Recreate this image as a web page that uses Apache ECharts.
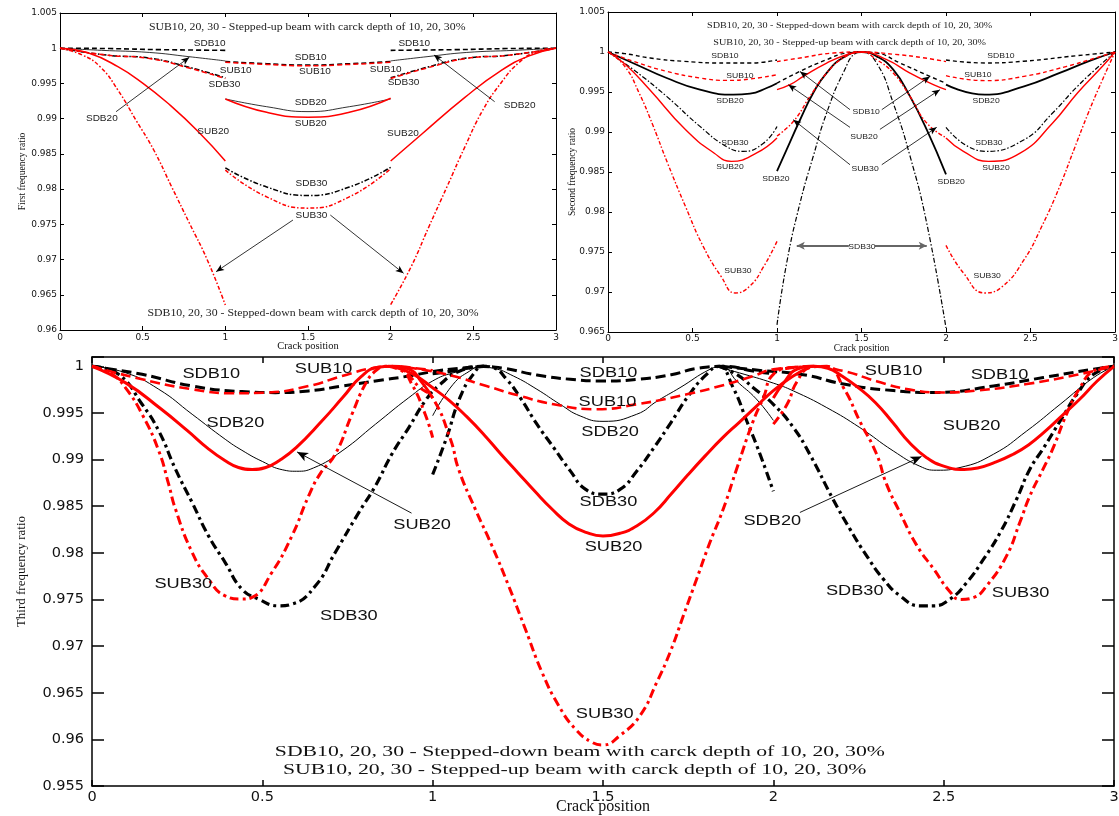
<!DOCTYPE html>
<html><head><meta charset="utf-8">
<script src="https://cdn.jsdelivr.net/npm/echarts@6/dist/echarts.min.js"></script>
<style>html,body{margin:0;padding:0;background:#fff}#c{width:1119px;height:816px}</style>
</head><body><div id="c"></div>
<script>
// ---------------- axis ranges / ticks ----------------
const X_RANGE = [0, 3], X_STEP = 0.5;
const F1_RANGE = [0.96, 1.005];
const F2_RANGE = [0.965, 1.005];
const F3_RANGE = [0.955, 1.001];
const Y_STEP = 0.005;

// ---------------- First frequency ratio (top-left) ----------------
const f1_SDB10 = [
  [[0,1],[0.3,0.99995],[0.6,0.9998],[1,0.9997]],
  [[1,0.9981],[1.25,0.9978],[1.5,0.9976],[1.75,0.9978],[2,0.9981]],
  [[2,0.9997],[2.4,0.9998],[2.7,0.99995],[3,1]]];
const f1_SDB20 = [
  [[0,1],[0.25,0.9997],[0.54,0.9994],[0.78,0.9988],[1,0.9982]],
  [[1,0.9928],[1.25,0.9917],[1.5,0.991],[1.75,0.9917],[2,0.9928]],
  [[2,0.9982],[2.22,0.9988],[2.46,0.9994],[2.75,0.9997],[3,1]]];
const f1_SDB30 = [
  [[0,1],[0.29,0.999],[0.54,0.9986],[0.78,0.9973],[1,0.9958]],
  [[1,0.983],[1.25,0.9803],[1.5,0.9791],[1.75,0.9803],[2,0.9831]],
  [[2,0.9958],[2.22,0.9973],[2.46,0.9986],[2.71,0.999],[3,1]]];
const f1_SUB10 = [
  [[0,1],[0.29,0.999],[0.54,0.99855],[0.78,0.9972],[1,0.9957]],
  [[1,0.998],[1.25,0.9977],[1.5,0.9975],[1.75,0.9977],[2,0.998]],
  [[2,0.9957],[2.22,0.9972],[2.46,0.99855],[2.71,0.999],[3,1]]];
const f1_SUB20 = [
  [[0,1],[0.177,0.99928],[0.35,0.99738],[0.502,0.99502],[0.653,0.99218],[0.837,0.98815],[1,0.98399]],
  [[1,0.9928],[1.25,0.9909],[1.5,0.9902],[1.75,0.9909],[2,0.9929]],
  [[2,0.98399],[2.189,0.98783],[2.449,0.99302],[2.665,0.99679],[2.838,0.99892],[3,1]]];
const f1_SUB30 = [
  [[0,1],[0.134,0.99904],[0.242,0.99738],[0.35,0.99407],[0.459,0.98981],[0.567,0.98555],[0.675,0.98034],[0.783,0.97515],[0.891,0.96994],[1,0.96355]],
  [[1,0.9827],[1.25,0.9789],[1.5,0.9773],[1.75,0.9789],[2,0.9829]],
  [[2,0.9636],[2.124,0.969],[2.232,0.9747],[2.34,0.9803],[2.449,0.986],[2.557,0.9912],[2.665,0.995],[2.773,0.9979],[2.881,0.9995],[3,1]]];

// ---------------- Second frequency ratio (top-right) ----------------
const f2_SDB10 = [
  [[0,1],[0.1,0.9998],[0.25,0.99925],[0.45,0.99883],[0.7,0.99862],[0.84,0.99862],[1,0.999]],
  [[1,0.9961],[1.136,0.99758],[1.294,0.99904],[1.412,0.99987],[1.5,1],[1.59,0.99987],[1.728,0.99862],[1.905,0.99695],[2,0.9961]],
  [[2,0.999],[2.23,0.99863],[2.46,0.99885],[2.78,0.99955],[3,1]]];
const f2_SDB20 = [
  [[0,1],[0.15,0.9986],[0.347,0.99675],[0.544,0.99529],[0.742,0.99466],[0.84,0.99479],[0.939,0.9955],[1,0.9961]],
  [[1,0.9851],[1.057,0.9878],[1.136,0.9915],[1.215,0.9949],[1.294,0.9974],[1.392,0.9993],[1.5,1],[1.59,0.99945],[1.688,0.9978],[1.787,0.99445],[1.886,0.9903],[2,0.9847]],
  [[2,0.99592],[2.23,0.99467],[2.462,0.99571],[2.673,0.99738],[2.842,0.99883],[3,1]]];
const f2_SDB30 = [
  [[0,1],[0.15,0.9978],[0.347,0.99445],[0.544,0.9907],[0.7,0.9882],[0.8,0.98758],[0.92,0.9886],[1,0.9907]],
  [[1,0.9659],[1.057,0.9736],[1.136,0.9811],[1.215,0.987],[1.294,0.9924],[1.392,0.9974],[1.471,0.9999],[1.5,1],[1.59,0.9986],[1.688,0.9936],[1.787,0.987],[1.886,0.9786],[2,0.9655]],
  [[2,0.99058],[2.23,0.98758],[2.462,0.98904],[2.631,0.99238],[2.778,0.99571],[2.926,0.99863],[3,1]]];
const f2_SUB10 = [
  [[0,1],[0.15,0.99883],[0.347,0.99758],[0.544,0.99675],[0.702,0.99645],[0.84,0.99662],[1,0.99716]],
  [[1,0.9988],[1.136,0.99925],[1.333,0.99987],[1.5,1],[1.7,0.9997],[1.86,0.9993],[2,0.9988]],
  [[2,0.99704],[2.23,0.99642],[2.462,0.99696],[2.715,0.99821],[2.884,0.99925],[3,1]]];
const f2_SUB20 = [
  [[0,1],[0.1,0.9985],[0.247,0.99529],[0.458,0.9903],[0.627,0.98738],[0.73,0.98633],[0.88,0.98738],[1,0.98925]],
  [[1,0.99529],[1.077,0.99591],[1.156,0.99695],[1.294,0.99862],[1.412,0.99966],[1.5,1],[1.649,0.99904],[1.787,0.99737],[1.925,0.99591],[2,0.99529]],
  [[2,0.98925],[2.103,0.98758],[2.251,0.98633],[2.441,0.98738],[2.631,0.99113],[2.778,0.99488],[2.926,0.99821],[3,1]]];
const f2_SUB30 = [
  [[0,1],[0.099,0.99821],[0.184,0.99488],[0.268,0.99071],[0.352,0.98613],[0.458,0.98071],[0.563,0.97571],[0.669,0.97196],[0.753,0.96988],[0.838,0.97071],[0.922,0.97321],[1,0.97633]],
  [[1,0.9895],[1.1,0.9914],[1.195,0.99445],[1.294,0.99737],[1.392,0.99925],[1.5,1],[1.59,0.99904],[1.688,0.99737],[1.787,0.99445],[1.886,0.99112],[2,0.9893]],
  [[2,0.97583],[2.103,0.97238],[2.23,0.96988],[2.335,0.97071],[2.462,0.97404],[2.567,0.97821],[2.673,0.98321],[2.757,0.98779],[2.842,0.99238],[2.926,0.99654],[3,1]]];

// ---------------- Third frequency ratio (bottom) ----------------
const f3_SDB10 = [
  [[0,1],[0.147,0.99914],[0.294,0.99789],[0.44,0.99729],[0.538,0.99718],[0.636,0.99736],[0.734,0.99789],[0.832,0.99843],[0.93,0.99896],[1,0.99943],[1.08,0.9998],[1.15,1]],
  [[1,0.9992],[1.06,0.9995],[1.14,1],[1.207,0.9998],[1.306,0.99907],[1.404,0.99861],[1.5,0.99843],[1.6,0.9986],[1.7,0.9991],[1.78,0.9998],[1.86,1],[1.94,0.9995],[2,0.9992]],
  [[1.85,1],[1.95,0.9996],[2.088,0.9991],[2.206,0.9981],[2.352,0.9974],[2.479,0.9972],[2.646,0.9979],[2.793,0.9988],[2.94,0.9997],[3,1]]];
const f3_SDB20 = [
  [[0,1],[0.098,0.99932],[0.196,0.99754],[0.294,0.99486],[0.391,0.99218],[0.44,0.991],[0.5,0.9898],[0.56,0.9889],[0.6,0.98875],[0.65,0.9891],[0.734,0.99093],[0.832,0.99379],[0.93,0.99664],[1,0.99843],[1.06,0.9993],[1.15,1]],
  [[1,0.9947],[1.06,0.99807],[1.109,0.9995],[1.139,0.99993],[1.178,0.99979],[1.237,0.99896],[1.306,0.99754],[1.374,0.99593],[1.433,0.99468],[1.5,0.9941],[1.599,0.99486],[1.66,0.9963],[1.726,0.99771],[1.814,0.99968],[1.85,1],[1.892,0.99843],[1.95,0.9965],[2,0.9942]],
  [[1.83,1],[1.9,0.9993],[2,0.9982],[2.059,0.99736],[2.157,0.99557],[2.254,0.99343],[2.352,0.99093],[2.43,0.98929],[2.479,0.98886],[2.548,0.98915],[2.646,0.99057],[2.744,0.99307],[2.842,0.99593],[2.94,0.99879],[3,1]]];
const f3_SDB30 = [
  [[0,1],[0.078,0.99914],[0.147,0.99593],[0.196,0.99307],[0.245,0.98897],[0.294,0.98539],[0.342,0.98182],[0.391,0.97896],[0.44,0.97611],[0.489,0.97504],[0.548,0.97432],[0.587,0.9745],[0.656,0.97647],[0.714,0.98004],[0.783,0.98432],[0.832,0.98718],[0.88,0.99057],[0.93,0.99343],[0.978,0.99629],[1.02,0.998],[1.08,0.9995],[1.15,1]],
  [[1,0.9884],[1.041,0.99236],[1.08,0.99664],[1.119,0.99914],[1.149,1],[1.178,0.99986],[1.217,0.99861],[1.257,0.99664],[1.306,0.99379],[1.355,0.99129],[1.404,0.98879],[1.448,0.98683],[1.5,0.9863],[1.55,0.9868],[1.6,0.9888],[1.65,0.9913],[1.7,0.994],[1.75,0.9968],[1.8,0.999],[1.84,1],[1.882,0.99771],[1.922,0.99414],[1.961,0.99057],[2,0.9866]],
  [[1.84,1],[1.892,0.99914],[1.941,0.99771],[2,0.99593],[2.059,0.99343],[2.107,0.99057],[2.176,0.9857],[2.225,0.98254],[2.274,0.97968],[2.323,0.97718],[2.372,0.97539],[2.431,0.97432],[2.47,0.97432],[2.519,0.97504],[2.568,0.97682],[2.617,0.97932],[2.666,0.98218],[2.714,0.98575],[2.753,0.98897],[2.794,0.99129],[2.842,0.99414],[2.891,0.997],[2.94,0.99914],[3,1]]];
const f3_SUB10 = [
  [[0,1],[0.147,0.99861],[0.294,0.99754],[0.411,0.99711],[0.509,0.99718],[0.636,0.99789],[0.734,0.99896],[0.832,0.99986],[0.88,1],[0.978,0.99968],[1,0.99957]],
  [[0.88,1],[0.963,0.99968],[1.06,0.99896],[1.158,0.99789],[1.257,0.99682],[1.355,0.99593],[1.481,0.9954],[1.599,0.99593],[1.746,0.997],[1.844,0.99789],[1.941,0.99896],[2,0.99968],[2.12,1]],
  [[2,0.9996],[2.06,0.9999],[2.11,1],[2.206,0.9995],[2.303,0.9984],[2.401,0.9975],[2.499,0.9972],[2.597,0.9974],[2.744,0.9981],[2.891,0.9991],[3,1]]];
const f3_SUB20 = [
  [[0,1],[0.1,0.9982],[0.2,0.9955],[0.28,0.9931],[0.34,0.9912],[0.39,0.9899],[0.43,0.98915],[0.47,0.98893],[0.51,0.98915],[0.55,0.9899],[0.6,0.9913],[0.674,0.9941],[0.737,0.9967],[0.79,0.9989],[0.84,0.9999],[0.88,1],[0.93,0.9997],[0.97,0.9982],[1,0.9966]],
  [[0.88,1],[0.94,0.9992],[1,0.9977],[1.05,0.9963],[1.1,0.9946],[1.15,0.9927],[1.2,0.9906],[1.25,0.9886],[1.3,0.9866],[1.35,0.9847],[1.4,0.9831],[1.45,0.9822],[1.5,0.9818],[1.55,0.9821],[1.6,0.9829],[1.65,0.9843],[1.7,0.9863],[1.75,0.9884],[1.8,0.9904],[1.85,0.9923],[1.9,0.994],[1.95,0.9957],[2,0.9974],[2.056,0.9989],[2.11,1]],
  [[2,0.9966],[2.03,0.9982],[2.07,0.9997],[2.12,1],[2.16,0.9998],[2.2,0.999],[2.25,0.9977],[2.3,0.9961],[2.35,0.994],[2.4,0.9918],[2.45,0.9902],[2.5,0.9893],[2.56,0.98895],[2.6,0.9891],[2.65,0.9897],[2.7,0.9905],[2.75,0.9916],[2.8,0.9931],[2.85,0.9948],[2.9,0.9965],[2.95,0.9984],[3,1]]];
const f3_SUB30 = [
  [[0,1],[0.059,0.99914],[0.098,0.99771],[0.147,0.99486],[0.196,0.99093],[0.225,0.98736],[0.245,0.98469],[0.294,0.98004],[0.342,0.97718],[0.391,0.97539],[0.44,0.97504],[0.47,0.97522],[0.528,0.97789],[0.587,0.98182],[0.636,0.98611],[0.67,0.9885],[0.714,0.99057],[0.763,0.99486],[0.802,0.99807],[0.832,0.9995],[0.861,1],[0.9,0.99986],[0.939,0.99807],[0.978,0.99486],[1,0.99236]],
  [[0.87,1],[0.92,0.9993],[0.96,0.9978],[1,0.9966],[1.053,0.9921],[1.076,0.98897],[1.125,0.98469],[1.174,0.98076],[1.223,0.97646],[1.272,0.97183],[1.321,0.96719],[1.37,0.96361],[1.419,0.96111],[1.468,0.95968],[1.5,0.9594],[1.55,0.96042],[1.609,0.96256],[1.658,0.96613],[1.697,0.96934],[1.736,0.97327],[1.775,0.9772],[1.814,0.98113],[1.853,0.9847],[1.892,0.98897],[1.941,0.99414],[1.971,0.99664],[2,0.99914],[2.06,0.99986],[2.12,1]],
  [[2,0.9938],[2.04,0.9959],[2.07,0.9984],[2.11,0.9999],[2.157,1],[2.206,0.9977],[2.254,0.9941],[2.303,0.9906],[2.332,0.9874],[2.372,0.9843],[2.421,0.9808],[2.47,0.9783],[2.519,0.9758],[2.548,0.975],[2.587,0.9752],[2.627,0.9765],[2.685,0.9797],[2.724,0.9833],[2.753,0.9861],[2.792,0.989],[2.822,0.9913],[2.861,0.9949],[2.9,0.9977],[2.94,0.9995],[3,1]]];

// ---------------- annotations (data coordinates) ----------------
const f1Labels = [['SDB10',0.905,1.0007],['SDB10',1.516,0.99871],['SDB10',2.143,1.0006],
  ['SUB10',1.063,0.99677],['SUB10',1.542,0.99662],['SUB10',1.97,0.99691],
  ['SDB30',0.994,0.99478],['SDB30',2.078,0.99506],
  ['SDB20',0.253,0.99005],['SDB20',1.516,0.99222],['SDB20',2.78,0.9918],
  ['SUB20',1.516,0.98924],['SUB20',0.927,0.98811],['SUB20',2.074,0.98792],
  ['SDB30',1.521,0.98073],['SUB30',1.521,0.97618]];
const f1Notes = [['SUB10, 20, 30 - Stepped-up beam with carck depth of 10, 20, 30%',1.495,1.00297],
  ['SDB10, 20, 30 - Stepped-down beam with carck depth of 10, 20, 30%',1.53,0.96237]];
const f1Arrows = [[0.339,0.99099,0.782,0.99871],[2.629,0.99241,2.262,0.99904],
  [1.409,0.97561,0.944,0.96828],[1.635,0.97632,2.078,0.96805]];

const f2Labels = [['SDB10',0.692,0.99954],['SDB10',2.325,0.99954],['SUB10',0.781,0.99704],['SUB10',2.189,0.99716],
  ['SDB20',0.722,0.99391],['SDB20',2.237,0.99391],['SDB30',0.751,0.98866],['SDB30',2.254,0.98866],
  ['SUB20',0.722,0.98566],['SUB20',2.296,0.98554],['SDB10',1.527,0.99254],['SUB20',1.515,0.98941],['SUB30',1.521,0.98541],
  ['SDB20',0.994,0.98416],['SDB20',2.03,0.98379],['SDB30',1.503,0.97566],['SUB30',0.769,0.97266],['SUB30',2.243,0.97204]];
const f2Notes = [['SDB10, 20, 30 - Stepped-down beam with carck depth of 10, 20, 30%',1.43,1.00333],
  ['SUB10, 20, 30 - Stepped-up beam with carck depth of 10, 20, 30%',1.43,1.0012]];
const f2Arrows = [[1.432,0.99279,1.136,0.99757],[1.62,0.99279,1.905,0.99695],
  [1.432,0.99058,1.067,0.99591],[1.609,0.99033,1.964,0.99529],
  [1.432,0.98591,1.096,0.99154],[1.62,0.98591,1.945,0.99058]];
const f2GrayArrows = [[1.425,0.97579,1.117,0.97579],[1.58,0.97579,1.886,0.97579]];

const f3Labels = [['SDB10',0.35,0.99914],['SUB10',0.68,0.99968],['SDB20',0.421,0.9939],['SUB20',0.969,0.983],
  ['SUB30',0.268,0.97665],['SDB30',0.754,0.97326],['SDB10',1.516,0.99925],['SUB10',1.513,0.99611],
  ['SDB20',1.521,0.9929],['SDB30',1.516,0.9854],['SUB20',1.531,0.98065],['SUB30',1.505,0.96273],
  ['SUB10',2.353,0.9995],['SDB10',2.664,0.99907],['SUB20',2.582,0.99354],['SDB20',1.997,0.98343],
  ['SDB30',2.239,0.97587],['SUB30',2.726,0.97569]];
const f3Notes = [['SDB10, 20, 30 - Stepped-down beam with carck depth of 10, 20, 30%',1.432,0.95869],
  ['SUB10, 20, 30 - Stepped-up beam with carck depth of 10, 20, 30%',1.417,0.95673]];
const f3Arrows = [[0.938,0.98426,0.602,0.99082],[2.078,0.98433,2.435,0.99033]];

// ---------------- styles ----------------
const RED = '#ff0000', BLK = '#000000';
const ST = [
  {SDB10:{color:BLK,width:1.6,type:[5,3]},SDB20:{color:BLK,width:0.8,type:'solid'},SDB30:{color:BLK,width:1.5,type:[5,2,1.5,2]},
   SUB10:{color:RED,width:1.5,type:[5,3]},SUB20:{color:RED,width:1.5,type:'solid'},SUB30:{color:RED,width:1.5,type:[4,2,1.5,2]}},
  {SDB10:{color:BLK,width:1.4,type:[4,3]},SDB20:{color:BLK,width:1.8,type:'solid'},SDB30:{color:BLK,width:1.2,type:[5,2,1.5,2]},
   SUB10:{color:RED,width:1.4,type:[4,3]},SUB20:{color:RED,width:1.4,type:'solid'},SUB30:{color:RED,width:1.4,type:[4,2,1.5,2]}},
  {SDB10:{color:BLK,width:3,type:[10,5]},SDB20:{color:BLK,width:1,type:'solid'},SDB30:{color:BLK,width:3.2,type:[9,4,3,4]},
   SUB10:{color:RED,width:2.6,type:[10,5]},SUB20:{color:RED,width:3,type:'solid'},SUB30:{color:RED,width:3,type:[9,4,3,4]}}];

const PANELS = [
  {SDB10:f1_SDB10,SDB20:f1_SDB20,SDB30:f1_SDB30,SUB10:f1_SUB10,SUB20:f1_SUB20,SUB30:f1_SUB30},
  {SDB10:f2_SDB10,SDB20:f2_SDB20,SDB30:f2_SDB30,SUB10:f2_SUB10,SUB20:f2_SUB20,SUB30:f2_SUB30},
  {SDB10:f3_SDB10,SDB20:f3_SDB20,SDB30:f3_SDB30,SUB10:f3_SUB10,SUB20:f3_SUB20,SUB30:f3_SUB30}];

// ---------------- axes ----------------
const AX = [
  {yr:F1_RANGE, lw:1, tick:4, lf:'DejaVu Sans', ls:9, lmx:3, lmy:3, ns:10.5, ngx:11, yname:'First frequency ratio', yns:9.5, ngy:33},
  {yr:F2_RANGE, lw:1, tick:4, lf:'DejaVu Sans', ls:9, lmx:2, lmy:3, ns:9.5, ngx:11, yname:'Second frequency ratio', yns:9.5, ngy:31},
  {yr:F3_RANGE, lw:1.5, tick:6, tickY:12, lf:'DejaVu Sans', ls:14.5, lmx:4, lmy:8, ns:16, ngx:13, yname:'Third frequency ratio', yns:13, ngy:64}];

function yFmt(v){ const r=v/Y_STEP; if(Math.abs(r-Math.round(r))>1e-6) return ''; return String(+v.toFixed(3)); }

const xAxis = [], yAxis = [];
AX.forEach((a, gi) => {
  ['bottom','top'].forEach(pos => xAxis.push({
    type:'value', gridIndex:gi, position:pos, min:X_RANGE[0], max:X_RANGE[1], interval:X_STEP,
    axisLine:{show:true,onZero:false,lineStyle:{color:'#000',width:a.lw}},
    axisTick:{show:true,inside:true,length:a.tick,lineStyle:{color:'#000',width:a.lw}},
    axisLabel:{show:pos==='bottom',fontFamily:a.lf,fontSize:a.ls,color:'#111',margin:a.lmx},
    splitLine:{show:false},
    name:pos==='bottom'?'Crack position':'', nameLocation:'middle', nameGap:a.ngx, nameMoveOverlap:false,
    nameTextStyle:{fontFamily:'Liberation Serif',fontSize:a.ns,color:'#111'}}));
  ['left','right'].forEach(pos => yAxis.push({
    type:'value', gridIndex:gi, position:pos, min:a.yr[0], max:a.yr[1], interval:Y_STEP,
    axisLine:{show:true,onZero:false,lineStyle:{color:'#000',width:a.lw}},
    axisTick:{show:true,inside:true,length:a.tickY||a.tick,lineStyle:{color:'#000',width:a.lw}},
    axisLabel:{show:pos==='left',fontFamily:a.lf,fontSize:a.ls,color:'#111',margin:a.lmy,formatter:yFmt},
    splitLine:{show:false},
    name:pos==='left'?a.yname:'', nameLocation:'middle', nameRotate:90, nameGap:a.ngy, nameMoveOverlap:false,
    nameTextStyle:{fontFamily:'Liberation Serif',fontSize:a.yns,color:'#111'}}));
});

// ---------------- series ----------------
const series = [];
const ORDER = ['SDB10','SDB20','SDB30','SUB10','SUB20','SUB30'];
PANELS.forEach((curves, gi) => {
  ORDER.forEach(k => curves[k].forEach(piece => series.push({
    name:k, type:'line', xAxisIndex:gi*2, yAxisIndex:gi*2, data:piece,
    showSymbol:false, symbol:'none', smooth:0.5,
    lineStyle:Object.assign({join:'round'}, ST[gi][k]), silent:true, animation:false, z:2})));
});
function arrowSeries(gi, arrows, color, width, size, sym) {
  return {type:'line', xAxisIndex:gi*2, yAxisIndex:gi*2, data:[], silent:true, animation:false, showSymbol:false,
    markLine:{silent:true, animation:false, symbol:sym||['none','arrow'], symbolSize:size, precision:5,
      label:{show:false}, lineStyle:{color:color,width:width,type:'solid'},
      data:arrows.map(a => [{coord:[a[0],a[1]]},{coord:[a[2],a[3]]}])}};
}
series.push(arrowSeries(0, f1Arrows, '#000', 0.8, [5,8]));
series.push(arrowSeries(1, f2Arrows, '#000', 0.8, [5,8]));
series.push(arrowSeries(1, f2GrayArrows, '#666', 1.8, [6,8]));
series.push(arrowSeries(2, f3Arrows, '#000', 0.9, [7,11]));

const GB = {outerBoundsMode:'none', containLabel:false};
const option = {
  backgroundColor:'#fff', animation:false,
  grid:[Object.assign({left:60,top:13,width:496,height:317},GB),
        Object.assign({left:608,top:12,width:507,height:320},GB),
        Object.assign({left:92,top:357,width:1022,height:429},GB)],
  xAxis, yAxis, series};

const chart = echarts.init(document.getElementById('c'));
chart.setOption(option);

// ---------------- text annotations placed through the axes ----------------
const graphics = [];
function addTexts(gi, list, font, scale, color) {
  list.forEach(([t,x,y]) => {
    const p = chart.convertToPixel({xAxisIndex:gi*2, yAxisIndex:gi*2}, [x,y]);
    graphics.push({type:'text', x:p[0], y:p[1], scaleX:scale, silent:true, z:100,
      style:{text:t, font:font, fill:color, textAlign:'center', textVerticalAlign:'middle', align:'center', verticalAlign:'middle'}});
  });
}
addTexts(0, f1Labels, '8.5px "Liberation Sans"', 1.18, '#222');
addTexts(0, f1Notes, '10px "Liberation Serif"', 1.18, '#222');
addTexts(1, f2Labels, '7.5px "Liberation Sans"', 1.15, '#222');
addTexts(1, f2Notes, '9px "Liberation Serif"', 1.13, '#222');
addTexts(2, f3Labels, '14px "Liberation Sans"', 1.3, '#111');
addTexts(2, f3Notes, '15px "Liberation Serif"', 1.45, '#111');
chart.setOption({graphic:graphics});
</script></body></html>
